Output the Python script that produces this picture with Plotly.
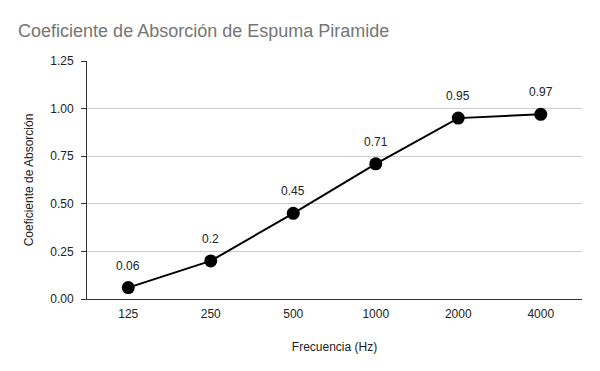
import plotly.graph_objects as go

categories = ["125", "250", "500", "1000", "2000", "4000"]
values = [0.06, 0.2, 0.45, 0.71, 0.95, 0.97]
value_labels = ["0.06", "0.2", "0.45", "0.71", "0.95", "0.97"]
y_ticks = [0, 0.25, 0.5, 0.75, 1.0, 1.25]
y_tick_labels = ["0.00", "0.25", "0.50", "0.75", "1.00", "1.25"]

font = "Liberation Sans, Arial, sans-serif"

fig = go.Figure()
fig.add_trace(go.Scatter(
    x=categories, y=values, mode="lines+markers",
    line=dict(color="#000000", width=2),
    marker=dict(color="#000000", size=13),
    hoverinfo="skip", showlegend=False,
))

for i, (v, t) in enumerate(zip(values, value_labels)):
    fig.add_annotation(x=i, y=v, xref="x", yref="y", text=t, showarrow=False,
                       yshift=22, font=dict(family=font, size=12, color="#222222"))

fig.update_layout(
    width=592, height=363,
    margin=dict(l=79, r=18, t=53, b=72),
    paper_bgcolor="white", plot_bgcolor="white",
    title=dict(text="Coeficiente de Absorción de Espuma Piramide",
               x=0.017, xanchor="left", y=0.937, yanchor="middle",
               font=dict(family=font, size=18, color="#757575")),
    xaxis=dict(type="category", range=[-0.5, 5.5],
               showline=True, linecolor="#333333", linewidth=1,
               showgrid=False, ticks="", zeroline=False,
               ticklabelstandoff=4,
               tickfont=dict(family=font, size=12, color="#222222"),
               title=dict(text="Frecuencia (Hz)", standoff=22,
                          font=dict(family=font, size=12, color="#222222"))),
    yaxis=dict(range=[0, 1.25], tickvals=y_ticks, ticktext=y_tick_labels,
               showline=True, linecolor="#333333", linewidth=1,
               showgrid=True, gridcolor="#cccccc", gridwidth=1,
               ticks="outside", ticklen=5, tickcolor="#333333",
               zeroline=False, ticklabelstandoff=5,
               tickfont=dict(family=font, size=12, color="#222222"),
               title=dict(text="Coeficiente de Absorción", standoff=14,
                          font=dict(family=font, size=12, color="#222222"))),
)

fig.write_html("out.html")
